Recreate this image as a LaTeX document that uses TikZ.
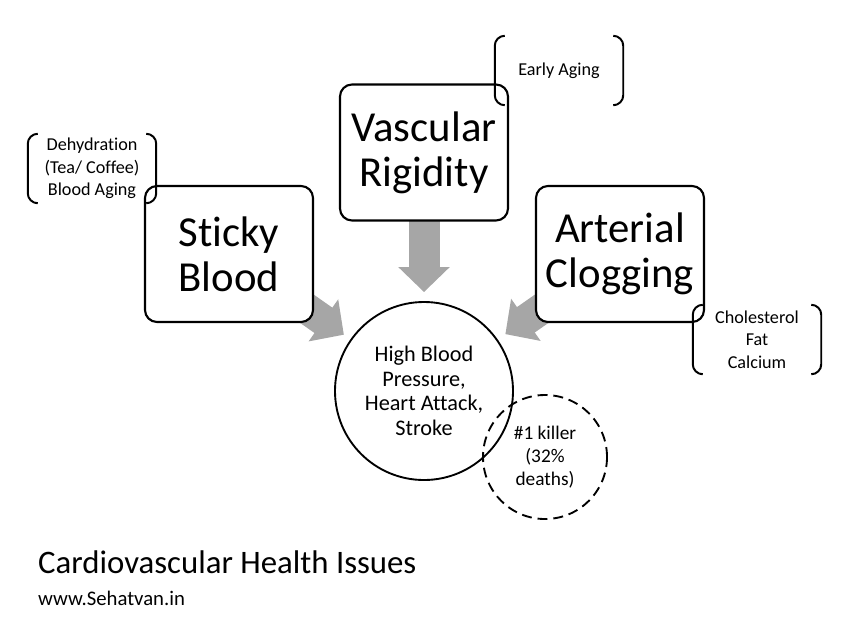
\documentclass[tikz,border=0pt]{standalone}
\usepackage{fontspec}
\setmainfont[Ligatures=NoCommon]{Carlito}
\usetikzlibrary{arrows.meta,backgrounds}
\definecolor{arrowgray}{RGB}{166,166,166}

\begin{document}
\begin{tikzpicture}[x=0.03cm,y=-0.03cm,
		cause/.style={draw, line width=1.8pt, rounded corners=0.36cm, fill=white, align=center,
			minimum width=5.04cm, minimum height=4.08cm, font=\fontsize{36.5}{38.5}\selectfont},
		effect/.style={circle, draw, line width=1.6pt, align=center, inner sep=0pt,
			minimum size=5.34cm, font=\fontsize{19}{21}\selectfont},
		killnote/.style={circle, draw, line width=1.6pt, dash pattern=on 8.5pt off 5pt, align=center,
			inner sep=0pt, minimum size=3.72cm, font=\fontsize{16.5}{19.5}\selectfont},
		bracketnote/.style={align=center, minimum width=3.84cm, minimum height=2.07cm,
			font=\fontsize{15.5}{19}\selectfont,
			append after command={\pgfextra{\let\bnode=\tikzlastnode
				\draw[line width=1.7pt, rounded corners=0.3cm]
				([xshift=0.3cm]\bnode.north west) -| (\bnode.south west) -- ([xshift=0.3cm]\bnode.south west)
				([xshift=-0.3cm]\bnode.north east) -| (\bnode.south east) -- ([xshift=-0.3cm]\bnode.south east);}}},
		bigarrow/.style={draw=arrowgray, line width=0.93cm, -{Triangle[length=0.75cm,width=1.5cm]}}
	]
	\useasboundingbox (0,0) rectangle (849,637);

	% the three causes
	\node[cause] (sticky) at (229,254) {Sticky\\Blood};
	\node[cause] (vascular) at (424,152.5) {Vascular\\Rigidity};
	\node[cause] (arterial) at (620,254) {Arterial\\Clogging};

	% the outcome
	\node[effect] (hbp) at (424,391) {High Blood\\Pressure,\\Heart Attack,\\Stroke};
	\node[killnote] (killer) at (545,457) {\#1 killer\\(32\%\\deaths)};

	% gray arrows behind the boxes
	\begin{scope}[on background layer]
		\draw[bigarrow, shorten >=0.24cm] (sticky.center) -- (hbp);
		\draw[bigarrow, shorten >=0.27cm] (vascular.center) -- (hbp);
		\draw[bigarrow, shorten >=0.28cm] (arterial.center) -- (hbp);
	\end{scope}

	% bracket notes
	\node[bracketnote] (dehyd) at (92,168.5) {Dehydration\\(Tea/ Coffee)\\Blood Aging};
	\node[bracketnote] (early) at (559,70.5) {Early Aging};
	\node[bracketnote] (chol) at (757,339.5) {Cholesterol\\Fat\\Calcium};

	\node[anchor=base west, inner sep=0pt, font=\fontsize{28}{32}\selectfont] (title) at (38,573) {Cardiovascular Health Issues};
	\node[anchor=base west, inner sep=0pt, font=\fontsize{17.7}{20}\selectfont] (web) at (38,605) {www.Sehatvan.in};
\end{tikzpicture}
\end{document}
